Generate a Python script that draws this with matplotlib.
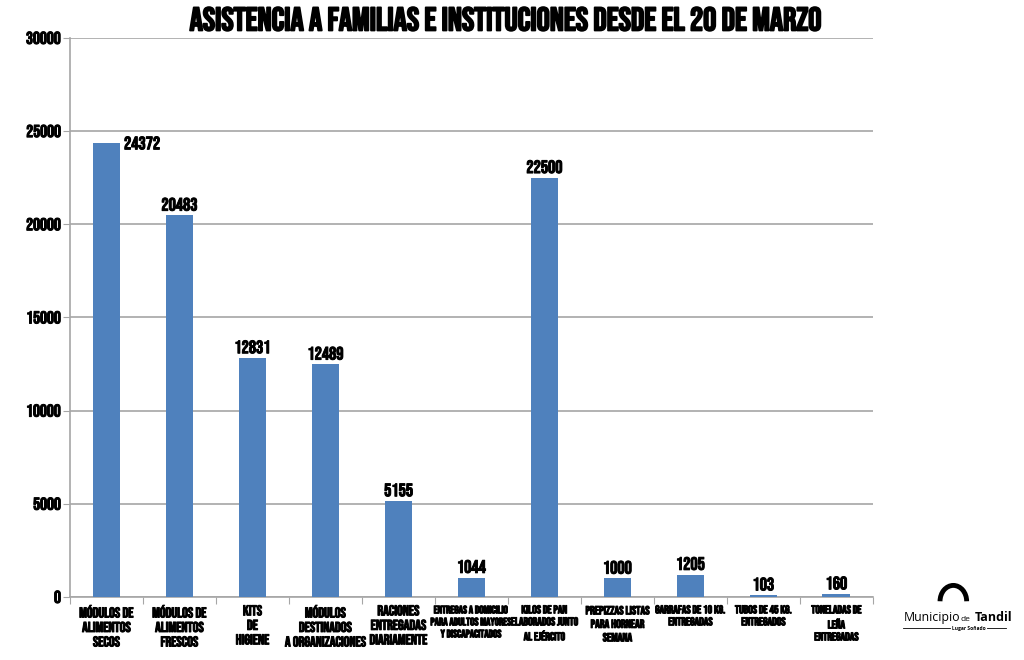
import matplotlib.pyplot as plt
import matplotlib.patches as mpatches
import matplotlib.patheffects as pe
import numpy as np

categorias = [
    "MÓDULOS DE\nALIMENTOS\nSECOS",
    "MÓDULOS DE\nALIMENTOS\nFRESCOS",
    "KITS\nDE\nHIGIENE",
    "MÓDULOS\nDESTINADOS\nA ORGANIZACIONES",
    "RACIONES\nENTREGADAS\nDIARIAMENTE",
    "ENTREGAS A DOMICILIO\nPARA ADULTOS MAYORES\nY DISCAPACITADOS",
    "KILOS DE PAN\nELABORADOS JUNTO\nAL EJÉRCITO",
    "PREPIZZAS LISTAS\nPARA HORNEAR\nSEMANA",
    "GARRAFAS DE 10 KG.\nENTREGADAS",
    "TUBOS DE 45 KG.\nENTREGADOS",
    "TONELADAS DE\nLEÑA\nENTREGADAS",
]
valores = [24372, 20483, 12831, 12489, 5155, 1044, 22500, 1000, 1205, 103, 160]
tamanos = [10.3, 10.3, 10.3, 10.3, 10.3, 7.8, 8.2, 8.5, 8.2, 8.2, 8.2]

plt.rcParams['font.family'] = ['Bebas Neue', 'DejaVu Sans']

azul = '#4f81bd'
gris = '#a6a6a6'
grueso = [pe.withStroke(linewidth=0.7, foreground='black')]

fig = plt.figure(figsize=(10.24, 6.6), dpi=100)
ax = fig.add_axes([0.0684, 0.0955, 0.784, 0.847])

x = np.arange(len(valores))
ax.bar(x, valores, width=0.38, color=azul, zorder=3)

ax.set_xlim(-0.5, len(valores) - 0.5)
ax.set_ylim(0, 30000)
ax.set_yticks(np.arange(0, 30001, 5000))
ax.yaxis.grid(True, color=gris, linewidth=1.2, zorder=0)
ax.tick_params(axis='y', length=5, color=gris, labelsize=12.5, pad=1.5)
for t in ax.get_yticklabels():
    t.set_path_effects(grueso)

ax.set_xticks(np.arange(-0.5, len(valores), 1.0))
ax.set_xticklabels([])
ax.tick_params(axis='x', length=5, color=gris)

for lado in ['top', 'right']:
    ax.spines[lado].set_visible(False)
ax.spines['left'].set_color(gris)
ax.spines['bottom'].set_color(gris)
ax.spines['left'].set_linewidth(1.2)
ax.spines['bottom'].set_linewidth(1.2)

for i, (cat, tam) in enumerate(zip(categorias, tamanos)):
    esp = 1.45 if tam > 9 else 1.5
    ax.text(i, -450, cat, ha='center', va='top', fontsize=tam,
            linespacing=esp, path_effects=grueso)

for i, v in enumerate(valores):
    if i == 0:
        ax.text(i + 0.24, v, str(v), ha='left', va='center',
                fontsize=13, path_effects=grueso)
    else:
        ax.text(i, v + 250, str(v), ha='center', va='bottom',
                fontsize=13, path_effects=grueso)

fig.text(0.494, 0.972, "ASISTENCIA A FAMILIAS E INSTITUCIONES DESDE EL 20 DE MARZO",
         ha='center', va='center', fontsize=23.7,
         path_effects=[pe.withStroke(linewidth=1.3, foreground='black')])

# logo Municipio de Tandil
arco = mpatches.Arc((0.931, 0.089), 0.026, 0.048, theta1=0, theta2=180,
                    transform=fig.transFigure, color='black', linewidth=3.5)
fig.patches.append(arco)
fig.text(0.9375, 0.065, "Municipio", ha='right', va='center', fontsize=8.8,
         family='Open Sans')
fig.text(0.938, 0.062, "de", ha='left', va='center', fontsize=6,
         family='Open Sans')
fig.text(0.952, 0.065, "Tandil", ha='left', va='center', fontsize=9,
         fontweight='bold', family='Open Sans')
fig.text(0.946, 0.048, "Lugar Soñado", ha='center', va='center', fontsize=3.5,
         fontweight='bold', family='Open Sans')
fig.add_artist(plt.Line2D([0.882, 0.928], [0.048, 0.048], color='black',
                          linewidth=0.6, transform=fig.transFigure))
fig.add_artist(plt.Line2D([0.964, 0.982], [0.048, 0.048], color='black',
                          linewidth=0.6, transform=fig.transFigure))

fig.savefig('out.png', dpi=100)
